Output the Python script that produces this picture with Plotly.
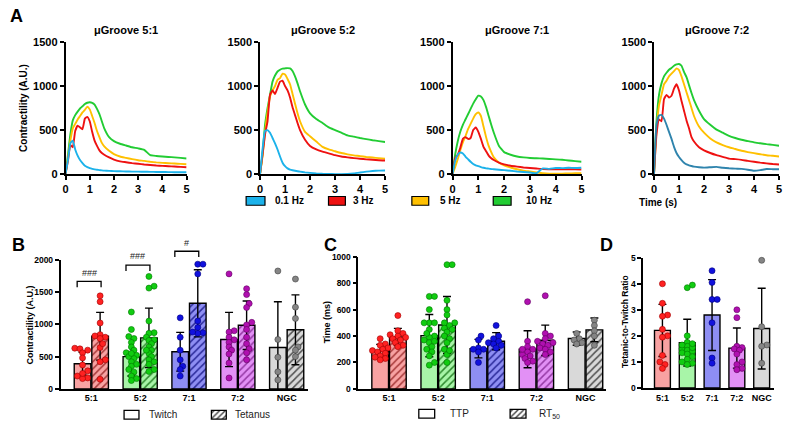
import plotly.graph_objects as go

W, H = 787, 427
FONT = "Liberation Sans, Arial, sans-serif"

# ---------------- Panel A data (contractility traces) ----------------
TIME = [0, 0.1, 0.2, 0.3, 0.4, 0.5, 0.6, 0.7, 0.8, 0.9, 1.0, 1.1, 1.2, 1.3, 1.4, 1.5,
        1.6, 1.8, 2.0, 2.25, 2.5, 2.75, 3.0, 3.25, 3.5, 3.75, 4.0, 4.25, 4.5, 4.75, 5.0]
A_TITLES = ["μGroove 5:1", "μGroove 5:2", "μGroove 7:1", "μGroove 7:2"]
FREQ_LABELS = ["0.1 Hz", "3 Hz", "5 Hz", "10 Hz"]

G51_HZ01 = [0, 160, 350, 380, 280, 210, 160, 125, 95, 80, 68, 60, 54, 50, 46, 43, 40, 37, 34, 32, 30, 29, 28, 27, 26, 25, 24, 23, 22, 22, 21]
G51_HZ3 = [0, 150, 330, 305, 490, 550, 530, 510, 630, 650, 600, 480, 380, 320, 270, 240, 220, 190, 165, 145, 135, 125, 118, 110, 104, 98, 94, 90, 86, 82, 78]
G51_HZ5 = [0, 180, 380, 520, 570, 620, 660, 700, 730, 765, 735, 660, 580, 490, 420, 355, 315, 265, 228, 200, 185, 170, 158, 150, 140, 133, 128, 124, 120, 116, 112]
G51_HZ10 = [0, 220, 450, 610, 670, 710, 745, 770, 795, 810, 815, 810, 790, 740, 680, 600, 520, 420, 375, 345, 325, 305, 292, 275, 215, 206, 200, 195, 190, 184, 178]

G52_HZ01 = [0, 280, 490, 500, 470, 410, 350, 280, 200, 130, 90, 65, 52, 44, 38, 33, 28, 20, 14, 8, 4, 2, 0, 0, 2, 8, 18, 28, 35, 40, 42]
G52_HZ3 = [0, 220, 450, 600, 900, 950, 910, 980, 1050, 1060, 1000, 950, 870, 760, 670, 580, 500, 390, 320, 280, 255, 235, 215, 200, 190, 182, 175, 168, 163, 158, 155]
G52_HZ5 = [0, 200, 480, 700, 880, 950, 1000, 1070, 1090, 1140, 1130, 1080, 1020, 910, 800, 690, 600, 480, 430, 370, 310, 280, 260, 240, 225, 213, 205, 195, 188, 182, 175]
G52_HZ10 = [0, 230, 560, 750, 900, 1050, 1120, 1165, 1185, 1198, 1200, 1203, 1200, 1170, 1110, 1030, 940, 790, 690, 625, 580, 530, 500, 470, 440, 425, 410, 397, 385, 375, 365]

G71_HZ01 = [0, 150, 220, 245, 235, 200, 170, 140, 115, 100, 90, 80, 72, 66, 62, 58, 55, 50, 45, 38, 30, 25, 18, 10, 65, 60, 70, 68, 72, 70, 73]
G71_HZ3 = [0, 180, 220, 300, 400, 420, 400, 410, 500, 530, 480, 400, 310, 260, 210, 180, 160, 130, 110, 95, 85, 76, 70, 64, 58, 56, 55, 55, 55, 55, 53]
G71_HZ5 = [0, 80, 170, 270, 360, 430, 510, 570, 630, 680, 700, 660, 540, 420, 320, 250, 190, 130, 100, 75, 55, 40, 30, 20, 10, 5, 5, 6, 8, 10, 12]
G71_HZ10 = [0, 220, 370, 480, 560, 620, 680, 740, 800, 850, 890, 880, 840, 760, 660, 560, 470, 320, 250, 220, 200, 190, 183, 180, 177, 172, 168, 163, 155, 148, 140]

G72_HZ01 = [0, 560, 665, 672, 630, 560, 480, 400, 310, 240, 195, 160, 130, 110, 100, 92, 85, 78, 74, 78, 82, 72, 66, 62, 60, 50, 38, 45, 58, 56, 55]
G72_HZ3 = [0, 450, 620, 600, 850, 900, 870, 890, 970, 1020, 950, 830, 720, 610, 520, 420, 370, 305, 270, 240, 215, 195, 176, 170, 162, 150, 140, 130, 122, 115, 110]
G72_HZ5 = [0, 500, 780, 900, 1020, 1060, 1110, 1140, 1170, 1200, 1180, 1110, 1020, 930, 840, 750, 660, 540, 470, 405, 360, 330, 305, 285, 265, 250, 238, 226, 215, 208, 200]
G72_HZ10 = [0, 600, 900, 1030, 1110, 1150, 1185, 1205, 1230, 1245, 1250, 1230, 1160, 1100, 1010, 920, 840, 720, 625, 560, 505, 470, 435, 410, 390, 375, 360, 350, 340, 332, 322]

A_SERIES = [
    [G51_HZ01, G51_HZ3, G51_HZ5, G51_HZ10],
    [G52_HZ01, G52_HZ3, G52_HZ5, G52_HZ10],
    [G71_HZ01, G71_HZ3, G71_HZ5, G71_HZ10],
    [G72_HZ01, G72_HZ3, G72_HZ5, G72_HZ10],
]
FREQ_COLORS = ["#1cb2ea", "#ee1111", "#ffc000", "#22cc33"]
TEAL_72 = "#2f84ad"

# ---------------- Panel B/C/D data ----------------
CATS = ["5:1", "5:2", "7:1", "7:2", "NGC"]

TWITCH_MEAN = [390, 500, 575, 765, 640]
TWITCH_SD = [175, 300, 300, 420, 710]
TETANUS_MEAN = [815, 790, 1325, 985, 915]
TETANUS_SD = [370, 460, 520, 375, 540]
TWITCH_PTS = [
    [630, 600, 620, 560, 480, 370, 280, 200, 170, 160, 240],
    [1190, 920, 810, 780, 720, 650, 600, 560, 520, 500, 470, 420, 380, 350, 300, 260, 200, 160, 130, 550],
    [1100, 800, 600, 450, 350, 300, 200],
    [1780, 900, 880, 800, 760, 720, 650, 600, 540, 400, 170],
    [1825, 765, 490, 265, 140],
]
TETANUS_PTS = [
    [1440, 1350, 1020, 840, 820, 800, 780, 640, 450, 420, 150, 700],
    [1740, 1590, 1560, 1050, 870, 860, 800, 760, 750, 700, 650, 600, 550, 500, 450, 420, 380, 300, 270, 600],
    [1930, 1930, 1780, 1050, 950, 870, 860, 880],
    [1550, 1460, 1320, 1260, 1030, 990, 920, 800, 700, 620, 560, 450],
    [1700, 1265, 1090, 650, 600, 500],
]
SIG_GROUPS = [0, 1, 2]
SIG_LABELS = ["###", "###", "#"]
SIG_LEVEL = [1665, 1915, 2130]

TTP_MEAN = [287, 403, 305, 300, 381]
TTP_SD = [50, 160, 70, 140, 50]
RT50_MEAN = [393, 484, 361, 368, 447]
RT50_SD = [65, 215, 65, 115, 90]
TTP_PTS = [
    [380, 340, 330, 310, 300, 290, 280, 270, 250, 230, 220, 240],
    [700, 700, 600, 500, 500, 500, 450, 400, 390, 370, 350, 320, 300, 280, 250, 200, 180, 420, 360],
    [400, 370, 310, 300, 300, 280, 200],
    [660, 360, 320, 300, 280, 260, 250, 230, 210, 200, 300],
    [420, 380, 370, 350, 340],
]
RT50_PTS = [
    [555, 440, 420, 410, 400, 390, 380, 370, 350, 330, 320],
    [940, 940, 670, 600, 560, 500, 500, 480, 460, 430, 400, 380, 350, 300, 260, 200, 290, 450],
    [480, 400, 380, 360, 350, 340, 330, 310],
    [705, 420, 400, 380, 360, 350, 340, 330, 310, 300, 280, 260],
    [520, 480, 440, 400, 330],
]

RATIO_MEAN = [2.21, 1.74, 2.80, 1.53, 2.28]
RATIO_SD = [1.0, 0.9, 1.36, 0.77, 1.55]
RATIO_PTS = [
    [4.0, 3.25, 2.8, 2.75, 2.25, 2.0, 1.95, 1.25, 1.0, 0.9, 0.75],
    [3.95, 3.85, 2.0, 1.75, 1.6, 1.5, 1.45, 1.4, 1.35, 1.3, 1.2, 1.1, 1.0, 0.95, 0.9, 1.55, 1.7, 1.65],
    [4.5, 4.05, 3.4, 3.4, 2.5, 1.15, 0.95],
    [3.0, 2.7, 1.6, 1.55, 1.5, 1.45, 1.3, 1.0, 0.9, 0.75, 0.7],
    [4.9, 2.35, 1.65, 1.6, 0.95],
]

BAR_FILL = ["#f8a2a2", "#a8f5a8", "#8e8ef3", "#e290f5", "#d9d9d9"]
HATCH_COL = ["#a83a3a", "#2f8a2f", "#2a2a9a", "#953aa5", "#505050"]
DOT_COL = ["#ff2222", "#11cc11", "#1111dd", "#b010b0", "#858585"]
DOT_EDGE = ["#a00000", "#007700", "#000080", "#600060", "#404040"]

# ---------------- layout geometry (pixels) ----------------
def px_x(x):
    return x / W

def px_y(y):
    return 1 - y / H

def dom_x(a, b):
    return [a / W, b / W]

def dom_y(top, bottom):
    return [1 - bottom / H, 1 - top / H]

A_X_PX = [(63, 185), (259, 385), (453, 583), (656, 782)]
A_Y_PX = (37, 173)

B_X_PX, B_XR = (58, 307), (-0.63, 4.43)
B_Y_PX, B_YR = (261, 394), (0, 2000)
C_X_PX, C_XR = (358, 608), (-0.626, 4.424)
C_Y_PX, C_YR = (258, 394), (0, 1000)
D_X_PX, D_XR = (645, 777), (-0.78, 4.5)
D_Y_PX, D_YR = (259, 393), (0, 5)


def tick_font(size):
    return dict(family=FONT, size=size, color="black", weight="bold")


def axis_style(**kw):
    d = dict(showline=True, linecolor="black", linewidth=1.5, ticks="outside", ticklen=4,
             tickwidth=1.5, tickcolor="black", showgrid=False, zeroline=False,
             tickfont=tick_font(11), fixedrange=True)
    d.update(kw)
    return d


fig = go.Figure()
layout = dict(width=W, height=H, margin=dict(l=0, r=0, t=0, b=0),
              paper_bgcolor="white", plot_bgcolor="white", showlegend=False,
              barmode="overlay", font=dict(family=FONT, color="black"))
annotations = []
shapes = []

# ---------------- Panel A ----------------
draw_order = [3, 2, 1, 0]
for p in range(4):
    xa = "x" if p == 0 else f"x{p+1}"
    ya = "y" if p == 0 else f"y{p+1}"
    for k in draw_order:
        col = FREQ_COLORS[k]
        if k == 0 and p == 3:
            col = TEAL_72
        fig.add_trace(go.Scatter(x=TIME, y=A_SERIES[p][k], mode="lines",
                                 line=dict(color=col, width=1.9, shape="spline", smoothing=0.4),
                                 xaxis=xa, yaxis=ya, hoverinfo="skip"))
    xkey = "xaxis" if p == 0 else f"xaxis{p+1}"
    ykey = "yaxis" if p == 0 else f"yaxis{p+1}"
    layout[xkey] = axis_style(domain=dom_x(*A_X_PX[p]), range=[0, 5], anchor=ya,
                              tickvals=[0, 1, 2, 3, 4, 5])
    layout[ykey] = axis_style(domain=dom_y(*A_Y_PX), range=[0, 1500], anchor=xa,
                              tickvals=[0, 500, 1000, 1500])
    annotations.append(dict(text=A_TITLES[p], xref=f"{xa} domain", x=0.5, yref="paper",
                            y=px_y(25), xanchor="center", yanchor="middle", showarrow=False,
                            font=dict(family=FONT, size=11, weight="bold")))

# ---------------- beeswarm helper (compact, kept near the bar) ----------------
def swarm(vals, ppx, ppy, diam=4.2, step=2.6, max_px=9.0):
    order = sorted(range(len(vals)), key=lambda i: vals[i])
    placed = []
    off = [0.0] * len(vals)
    nmax = int(max_px / step)
    cands = [0.0]
    for n in range(1, nmax + 1):
        cands += [n * step, -n * step]
    for i in order:
        yp = vals[i] * ppy
        best, best_d = 0.0, -1.0
        for c in cands:
            dmin = min([((c - a) ** 2 + (yp - b) ** 2) ** 0.5 for a, b in placed] or [99.0])
            if dmin >= diam:
                best = c
                break
            if dmin > best_d:
                best, best_d = c, dmin
        placed.append((best, yp))
        off[i] = best / ppx
    return off


def add_bar_set(xa, ya, centers, means, sds, pts, width, hatched, ppx, ppy, max_px):
    for i in range(len(means)):
        marker = dict(color=BAR_FILL[i], line=dict(color="black", width=1.4))
        if hatched:
            marker["pattern"] = dict(shape="/", fgcolor=HATCH_COL[i], bgcolor=BAR_FILL[i],
                                     fillmode="replace", size=5, solidity=0.3)
        fig.add_trace(go.Bar(x=[centers[i]], y=[means[i]], width=[width], marker=marker,
                             error_y=dict(type="data", array=[sds[i]], visible=True,
                                          color="black", thickness=1.4, width=4),
                             xaxis=xa, yaxis=ya, hoverinfo="skip"))
    for i in range(len(means)):
        offs = swarm(pts[i], ppx, ppy, max_px=max_px)
        fig.add_trace(go.Scatter(x=[centers[i] + o for o in offs], y=pts[i], mode="markers",
                                 marker=dict(size=6, color=DOT_COL[i],
                                             line=dict(color=DOT_EDGE[i], width=0.6)),
                                 xaxis=xa, yaxis=ya, hoverinfo="skip", cliponaxis=False))


def scale(px_range, data_range):
    return (px_range[1] - px_range[0]) / (data_range[1] - data_range[0])


idx = list(range(len(CATS)))

# ---------------- Panel B ----------------
ppx_b, ppy_b = scale(B_X_PX, B_XR), scale((B_Y_PX[0], B_Y_PX[1]), B_YR)
add_bar_set("x5", "y5", [i - 0.18 for i in idx], TWITCH_MEAN, TWITCH_SD, TWITCH_PTS, 0.34, False, ppx_b, ppy_b, 8)
add_bar_set("x5", "y5", [i + 0.18 for i in idx], TETANUS_MEAN, TETANUS_SD, TETANUS_PTS, 0.34, True, ppx_b, ppy_b, 8)
layout["xaxis5"] = axis_style(domain=dom_x(*B_X_PX), range=list(B_XR), anchor="y5",
                              tickvals=idx, ticktext=CATS, ticks="", tickfont=tick_font(9))
layout["yaxis5"] = axis_style(domain=dom_y(*B_Y_PX), range=list(B_YR), anchor="x5",
                              tickvals=[0, 500, 1000, 1500, 2000], tickfont=tick_font(8.5))

# ---------------- Panel C ----------------
ppx_c, ppy_c = scale(C_X_PX, C_XR), scale((C_Y_PX[0], C_Y_PX[1]), C_YR)
add_bar_set("x6", "y6", [i - 0.18 for i in idx], TTP_MEAN, TTP_SD, TTP_PTS, 0.34, False, ppx_c, ppy_c, 8)
add_bar_set("x6", "y6", [i + 0.18 for i in idx], RT50_MEAN, RT50_SD, RT50_PTS, 0.34, True, ppx_c, ppy_c, 8)
layout["xaxis6"] = axis_style(domain=dom_x(*C_X_PX), range=list(C_XR), anchor="y6",
                              tickvals=idx, ticktext=CATS, ticks="", tickfont=tick_font(9))
layout["yaxis6"] = axis_style(domain=dom_y(*C_Y_PX), range=list(C_YR), anchor="x6",
                              tickvals=[0, 200, 400, 600, 800, 1000], tickfont=tick_font(8.5))

# ---------------- Panel D ----------------
ppx_d, ppy_d = scale(D_X_PX, D_XR), scale((D_Y_PX[0], D_Y_PX[1]), D_YR)
add_bar_set("x7", "y7", idx, RATIO_MEAN, RATIO_SD, RATIO_PTS, 0.64, False, ppx_d, ppy_d, 7)
layout["xaxis7"] = axis_style(domain=dom_x(*D_X_PX), range=list(D_XR), anchor="y7",
                              tickvals=idx, ticktext=CATS, ticks="", tickfont=tick_font(9))
layout["yaxis7"] = axis_style(domain=dom_y(*D_Y_PX), range=list(D_YR), anchor="x7",
                              tickvals=[0, 1, 2, 3, 4, 5], tickfont=tick_font(8.5))

# ---------------- significance brackets (panel B, mapped through B scales) ----------------
def b_to_paper_x(v):
    return px_x(B_X_PX[0] + (v - B_XR[0]) * ppx_b)

def b_to_paper_y(v):
    return px_y(B_Y_PX[1] - (v - B_YR[0]) * ppy_b)

for g, lab, lev in zip(SIG_GROUPS, SIG_LABELS, SIG_LEVEL):
    x0, x1 = b_to_paper_x(g - 0.29), b_to_paper_x(g + 0.2)
    y0 = b_to_paper_y(lev)
    yt = y0 - 6 / H
    shapes.append(dict(type="path", xref="paper", yref="paper",
                       path=f"M {x0},{yt} L {x0},{y0} L {x1},{y0} L {x1},{yt}",
                       line=dict(color="black", width=1.3)))
    annotations.append(dict(text=lab, xref="paper", yref="paper", x=(x0 + x1) / 2,
                            y=y0 + 9 / H, xanchor="center", yanchor="middle", showarrow=False,
                            font=dict(family=FONT, size=9, color="#222222")))

# ---------------- legends ----------------
A_LEG_BOX = [(245, 264), (328, 345), (412, 429), (494, 512)]
A_LEG_TEXT_X = [272, 351, 438, 525]
for k in range(4):
    x0, x1 = A_LEG_BOX[k]
    shapes.append(dict(type="rect", xref="paper", yref="paper", x0=px_x(x0), x1=px_x(x1),
                       y0=px_y(205), y1=px_y(196), fillcolor=FREQ_COLORS[k],
                       line=dict(color="black", width=1.2)))
    annotations.append(dict(text=FREQ_LABELS[k], xref="paper", yref="paper", x=px_x(A_LEG_TEXT_X[k]),
                            y=px_y(200.5), xanchor="left", yanchor="middle", showarrow=False,
                            font=dict(family=FONT, size=10, weight="bold")))

PLAIN_BOXES = [(122, 137, 416, 425), (419, 435, 415, 424)]
for (x0, x1, t, b) in PLAIN_BOXES:
    shapes.append(dict(type="rect", xref="paper", yref="paper", x0=px_x(x0), x1=px_x(x1),
                       y0=px_y(b), y1=px_y(t), fillcolor="white",
                       line=dict(color="black", width=1.3)))

HATCH_BOXES = [("x8", "y8", 210, 225, 416, 425), ("x9", "y9", 511, 527, 415, 424)]
for (xa, ya, x0, x1, t, b) in HATCH_BOXES:
    wpx, hpx = x1 - x0, b - t
    fig.add_trace(go.Bar(x=[0], y=[1], base=[0], width=[1], xaxis=xa, yaxis=ya, hoverinfo="skip",
                         marker=dict(color="white", line=dict(color="black", width=1.3),
                                     pattern=dict(shape="/", fgcolor="#404040", bgcolor="white",
                                                  fillmode="replace", size=4, solidity=0.35))))
    layout["xaxis" + xa[1:]] = dict(domain=dom_x(x0 - 0.1 * wpx, x1 + 0.1 * wpx), range=[-0.6, 0.6],
                                    visible=False, anchor=ya, fixedrange=True)
    layout["yaxis" + ya[1:]] = dict(domain=dom_y(t - 0.15 * hpx, b + 0.15 * hpx), range=[-0.15, 1.15],
                                    visible=False, anchor=xa, fixedrange=True)

LEG_TEXTS = [("Twitch", 145, 420.5), ("Tetanus", 232, 420.5), ("TTP", 448, 419.5), ("RT<sub>50</sub>", 538, 420)]
for txt, x, y in LEG_TEXTS:
    annotations.append(dict(text=txt, xref="paper", yref="paper", x=px_x(x), y=px_y(y),
                            xanchor="left", yanchor="middle", showarrow=False,
                            font=dict(family=FONT, size=10, color="#222222")))

# ---------------- panel letters and axis titles ----------------
for letter, x, y in [("A", 5, 10), ("B", 7, 246), ("C", 321, 246), ("D", 600, 246)]:
    annotations.append(dict(text=letter, xref="paper", yref="paper", x=px_x(x), y=px_y(y),
                            xanchor="left", yanchor="middle", showarrow=False,
                            font=dict(family=FONT, size=18, weight="bold")))

Y_TITLES = [("Contractility (A.U.)", 20, 105, 10), ("Contractility (A.U.)", 27, 328, 9),
            ("Time (ms)", 326, 326, 9), ("Tetanic-to-Twitch Ratio", 627, 325, 8.5)]
for txt, x, y, s in Y_TITLES:
    annotations.append(dict(text=txt, xref="paper", yref="paper", x=px_x(x), y=px_y(y),
                            xanchor="center", yanchor="middle", textangle=-90, showarrow=False,
                            font=dict(family=FONT, size=s, weight="bold")))

annotations.append(dict(text="Time (s)", xref="paper", yref="paper", x=px_x(660), y=px_y(202),
                        xanchor="center", yanchor="middle", showarrow=False,
                        font=dict(family=FONT, size=10, weight="bold")))

layout["annotations"] = annotations
layout["shapes"] = shapes
fig.update_layout(**layout)
fig.write_html("out.html")
